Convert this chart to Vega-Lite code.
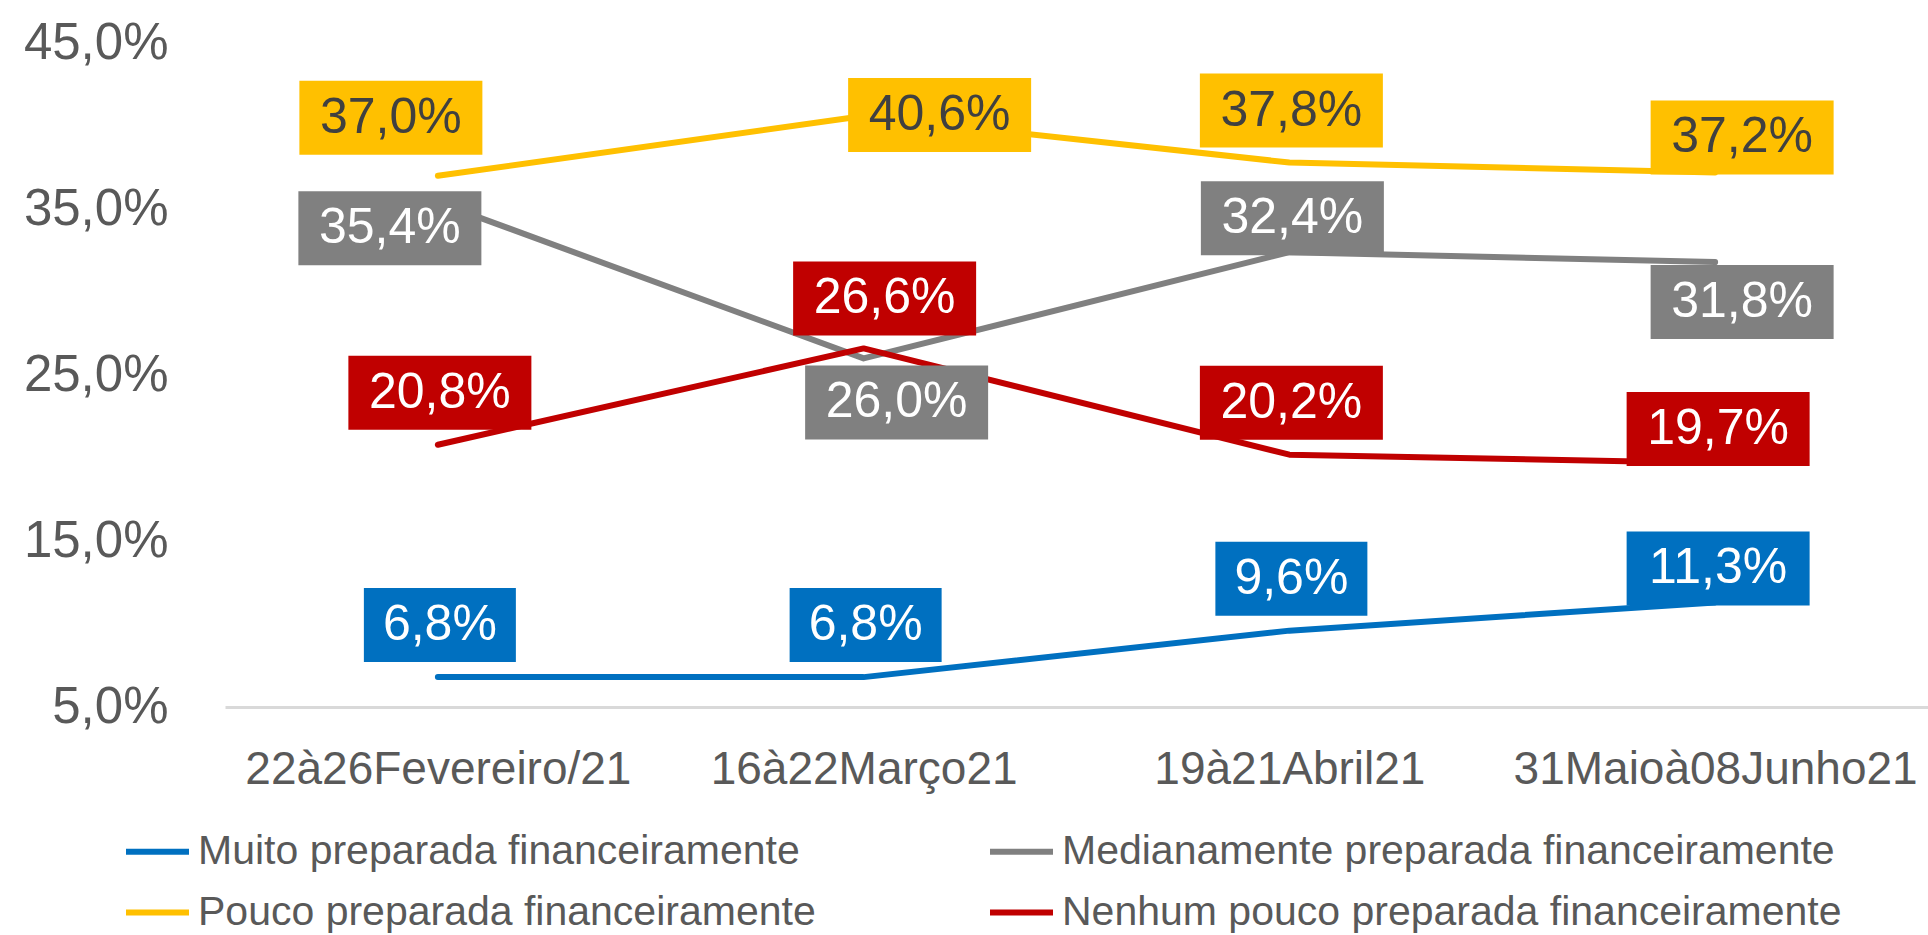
{
  "$schema": "https://vega.github.io/schema/vega-lite/v6.json",
  "autosize": "none",
  "width": 1703,
  "height": 664,
  "padding": {"left": 225, "top": 43, "right": 0, "bottom": 228},
  "background": "white",
  "config": {
    "view": {"stroke": null},
    "font": "Liberation Sans"
  },
  "data": {
    "values": [
      {"date": "22à26Fevereiro/21", "series": "Muito preparada financeiramente", "value": 6.8, "label": "6,8%", "pos": "above"},
      {"date": "16à22Março21", "series": "Muito preparada financeiramente", "value": 6.8, "label": "6,8%", "pos": "above"},
      {"date": "19à21Abril21", "series": "Muito preparada financeiramente", "value": 9.6, "label": "9,6%", "pos": "above"},
      {"date": "31Maioà08Junho21", "series": "Muito preparada financeiramente", "value": 11.3, "label": "11,3%", "pos": "aboveClose"},
      {"date": "22à26Fevereiro/21", "series": "Medianamente preparada financeiramente", "value": 35.4, "label": "35,4%", "pos": "belowLeft"},
      {"date": "16à22Março21", "series": "Medianamente preparada financeiramente", "value": 26.0, "label": "26,0%", "pos": "belowRight"},
      {"date": "19à21Abril21", "series": "Medianamente preparada financeiramente", "value": 32.4, "label": "32,4%", "pos": "aboveClose"},
      {"date": "31Maioà08Junho21", "series": "Medianamente preparada financeiramente", "value": 31.8, "label": "31,8%", "pos": "belowCloseRight"},
      {"date": "22à26Fevereiro/21", "series": "Pouco preparada financeiramente", "value": 37.0, "label": "37,0%", "pos": "aboveLeft"},
      {"date": "16à22Março21", "series": "Pouco preparada financeiramente", "value": 40.6, "label": "40,6%", "pos": "right"},
      {"date": "19à21Abril21", "series": "Pouco preparada financeiramente", "value": 37.8, "label": "37,8%", "pos": "above"},
      {"date": "31Maioà08Junho21", "series": "Pouco preparada financeiramente", "value": 37.2, "label": "37,2%", "pos": "aboveCloseRight"},
      {"date": "22à26Fevereiro/21", "series": "Nenhum pouco preparada financeiramente", "value": 20.8, "label": "20,8%", "pos": "above"},
      {"date": "16à22Março21", "series": "Nenhum pouco preparada financeiramente", "value": 26.6, "label": "26,6%", "pos": "aboveRight"},
      {"date": "19à21Abril21", "series": "Nenhum pouco preparada financeiramente", "value": 20.2, "label": "20,2%", "pos": "above"},
      {"date": "31Maioà08Junho21", "series": "Nenhum pouco preparada financeiramente", "value": 19.7, "label": "19,7%", "pos": "aboveClose"}
    ]
  },
  "encoding": {
    "x": {
      "field": "date",
      "type": "nominal",
      "sort": null,
      "scale": {"type": "point", "padding": 0.5},
      "axis": {
        "title": null,
        "labelAngle": 0,
        "labelFont": "Liberation Sans",
        "labelFontSize": 46,
        "labelColor": "#595959",
        "labelBaseline": "alphabetic",
        "labelPadding": 76,
        "labelLimit": 1000,
        "labelOverlap": false,
        "ticks": false,
        "tickSize": 0,
        "domain": true,
        "domainColor": "#D9D9D9",
        "domainWidth": 3,
        "grid": false
      }
    },
    "y": {
      "field": "value",
      "type": "quantitative",
      "scale": {"domain": [5, 45], "nice": false, "zero": false},
      "axis": {
        "title": null,
        "values": [5, 15, 25, 35, 45],
        "labelExpr": "replace(format(datum.value, '.1f'), '.', ',') + '%'",
        "labelFont": "Liberation Sans",
        "labelFontSize": 51,
        "labelColor": "#595959",
        "labelPadding": 57,
        "ticks": false,
        "domain": false,
        "grid": false
      }
    }
  },
  "layer": [
    {
      "mark": {"type": "line", "strokeWidth": 6, "strokeCap": "round", "strokeJoin": "round"},
      "encoding": {
        "color": {
          "field": "series",
          "type": "nominal",
          "scale": {
            "domain": ["Muito preparada financeiramente", "Medianamente preparada financeiramente", "Pouco preparada financeiramente", "Nenhum pouco preparada financeiramente"],
            "range": ["#0070C0", "#808080", "#FFC000", "#C00000"]
          },
          "legend": {
            "title": null,
            "orient": "none",
            "legendX": -102,
            "legendY": 774,
            "direction": "horizontal",
            "columns": 2,
            "columnPadding": 162,
            "rowPadding": 6,
            "padding": 0,
            "symbolType": "stroke",
            "symbolSize": 3969,
            "symbolStrokeWidth": 6,
            "labelOffset": 6,
            "labelFont": "Liberation Sans",
            "labelFontSize": 41,
            "labelColor": "#595959",
            "labelLimit": 1000
          }
        }
      }
    },
    {
      "mark": {
        "type": "rect",
        "width": {"expr": "length(datum.label) > 4 ? 183 : 152"},
        "height": 74,
        "xOffset": {"expr": "({'above': 2, 'aboveClose': 3, 'aboveLeft': -47, 'belowLeft': -48, 'right': 76, 'belowRight': 33, 'aboveRight': 21, 'aboveCloseRight': 27, 'belowCloseRight': 27})[datum.pos]"},
        "yOffset": {"expr": "({'above': -52, 'aboveClose': -34, 'aboveLeft': -58, 'belowLeft': 26, 'right': -1, 'belowRight': 44, 'aboveRight': -50, 'aboveCloseRight': -35, 'belowCloseRight': 40})[datum.pos]"}
      },
      "encoding": {
        "color": {"field": "series", "type": "nominal"}
      }
    },
    {
      "mark": {
        "type": "text",
        "font": "Liberation Sans",
        "fontSize": 50,
        "align": "center",
        "baseline": "middle",
        "xOffset": {"expr": "({'above': 2, 'aboveClose': 3, 'aboveLeft': -47, 'belowLeft': -48, 'right': 76, 'belowRight': 33, 'aboveRight': 21, 'aboveCloseRight': 27, 'belowCloseRight': 27})[datum.pos]"},
        "yOffset": {"expr": "({'above': -52, 'aboveClose': -34, 'aboveLeft': -58, 'belowLeft': 26, 'right': -1, 'belowRight': 44, 'aboveRight': -50, 'aboveCloseRight': -35, 'belowCloseRight': 40})[datum.pos]"}
      },
      "encoding": {
        "text": {"field": "label"},
        "color": {
          "condition": {"test": "datum.series === 'Pouco preparada financeiramente'", "value": "#404040"},
          "value": "#FFFFFF"
        }
      }
    }
  ]
}
